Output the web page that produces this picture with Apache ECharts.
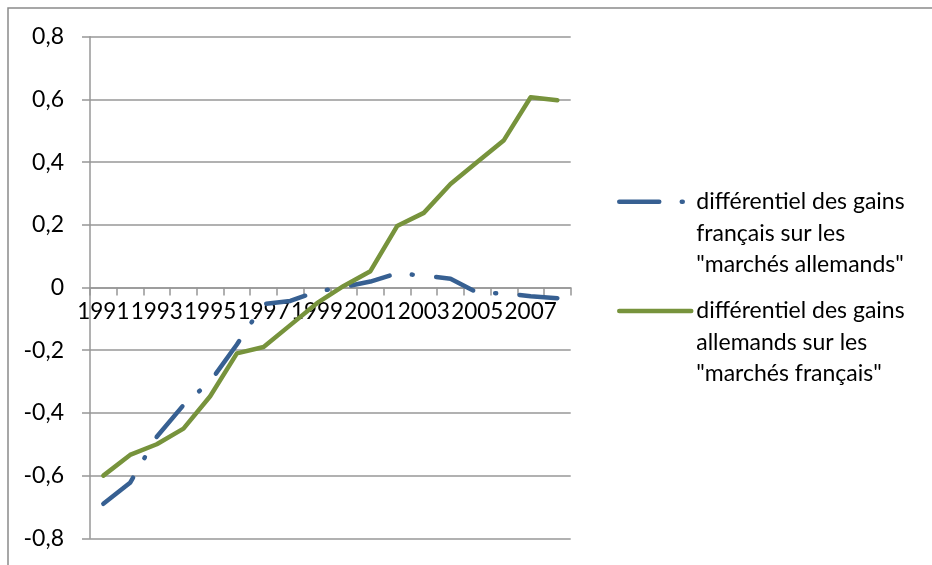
<!DOCTYPE html>
<html>
<head>
<meta charset="utf-8">
<script src="https://cdn.jsdelivr.net/npm/echarts@6/dist/echarts.min.js"></script>
<style>
	html, body { margin: 0; padding: 0; background: #fff; }
	#main { width: 932px; height: 565px; }
</style>
</head>
<body>
<div id="main"></div>
<script>
	// années (axe des catégories)
	var years = ['1991', '1992', '1993', '1994', '1995', '1996', '1997', '1998', '1999',
		'2000', '2001', '2002', '2003', '2004', '2005', '2006', '2007', '2008'];

	// différentiel des gains français sur les "marchés allemands"
	var gainsFrancais = [-0.69, -0.623, -0.476, -0.375, -0.30, -0.182, -0.053, -0.043, -0.013,
		0.002, 0.019, 0.045, 0.038, 0.028, -0.016, -0.019, -0.028, -0.034];

	// différentiel des gains allemands sur les "marchés français"
	var gainsAllemands = [-0.60, -0.534, -0.50, -0.45, -0.347, -0.21, -0.19, -0.12, -0.05,
		0.005, 0.052, 0.196, 0.238, 0.33, 0.40, 0.47, 0.607, 0.597];

	var nameFr = 'différentiel des gains\nfrançais sur les\n"marchés allemands"';
	var nameAl = 'différentiel des gains\nallemands sur les\n"marchés français"';

	var yMin = -0.8, yMax = 0.8, yStep = 0.2;

	var font = 'Lato';
	var gridColor = '#979797';
	var lineH = 31.5;
	var gridTop = 36.7, gridBottom = 26.7, plotH = 565 - gridTop - gridBottom;

	function legendBox(name, iconY) {
		return {
			data: [name],
			orient: 'vertical',
			left: 617,
			top: iconY - 2.5 * lineH,
			padding: 0,
			itemWidth: 72,
			itemHeight: 14,
			itemGap: 0,
			// deux lignes vides devant : le trait reste sur la 1re ligne du texte
			formatter: function (n) { return '\n\n' + n; },
			itemStyle: { color: 'rgba(0,0,0,0)', borderWidth: 0, opacity: 0 },
			lineStyle: { width: 4.5, cap: 'round' },
			textStyle: {
				fontFamily: font,
				fontSize: 23,
				color: '#000',
				lineHeight: lineH
			}
		};
	}

	var chart = echarts.init(document.getElementById('main'), null, { renderer: 'canvas' });

	var options = {
		animation: false,
		backgroundColor: '#fff',
		grid: {
			left: 90,
			top: gridTop,
			right: 361.3,
			bottom: gridBottom,
			containLabel: false
		},
		legend: [legendBox(nameFr, 201.7), legendBox(nameAl, 311)],
		xAxis: {
			type: 'category',
			data: years,
			boundaryGap: true,
			// axe placé sur le zéro (étiquettes comprises)
			offset: -plotH * (0 - yMin) / (yMax - yMin),
			axisLine: {
				show: true,
				onZero: false,
				lineStyle: { color: gridColor, width: 1.5 }
			},
			axisTick: {
				show: true,
				interval: 0,
				length: 8,
				lineStyle: { color: gridColor, width: 1.5 }
			},
			axisLabel: {
				interval: 0,
				margin: 13,
				hideOverlap: false,
				showMinLabel: true,
				showMaxLabel: true,
				fontFamily: font,
				fontSize: 22.5,
				color: '#000',
				// une année sur deux
				formatter: function (v, i) { return i % 2 === 0 ? v : ''; }
			},
			splitLine: { show: false }
		},
		yAxis: {
			type: 'value',
			min: yMin,
			max: yMax,
			interval: yStep,
			axisLine: {
				show: true,
				lineStyle: { color: gridColor, width: 1.5 }
			},
			axisTick: {
				show: true,
				length: 8,
				lineStyle: { color: gridColor, width: 1.5 }
			},
			axisLabel: {
				margin: 26,
				fontFamily: font,
				fontSize: 23,
				color: '#000',
				formatter: function (v) {
					if (Math.abs(v) < 1e-9) return '0';
					return v.toFixed(1).replace('.', ',');
				}
			},
			splitLine: {
				show: true,
				lineStyle: { color: gridColor, width: 1.5 }
			}
		},
		series: [{
			name: nameFr,
			type: 'line',
			data: gainsFrancais,
			symbol: 'none',
			color: '#376092',
			lineStyle: {
				color: '#376092',
				width: 4.5,
				type: [40, 22.5, 1, 23.5],
				cap: 'round',
				join: 'round'
			}
		}, {
			name: nameAl,
			type: 'line',
			data: gainsAllemands,
			symbol: 'none',
			color: '#77933C',
			lineStyle: {
				color: '#77933C',
				width: 4.5,
				cap: 'round',
				join: 'round'
			}
		}],
		graphic: [{
			type: 'rect',
			silent: true,
			shape: { x: 8, y: 8, width: 1000, height: 1000 },
			style: { fill: 'none', stroke: '#8a8a8a', lineWidth: 1.5 }
		}]
	};

	chart.setOption(options);
</script>
</body>
</html>
